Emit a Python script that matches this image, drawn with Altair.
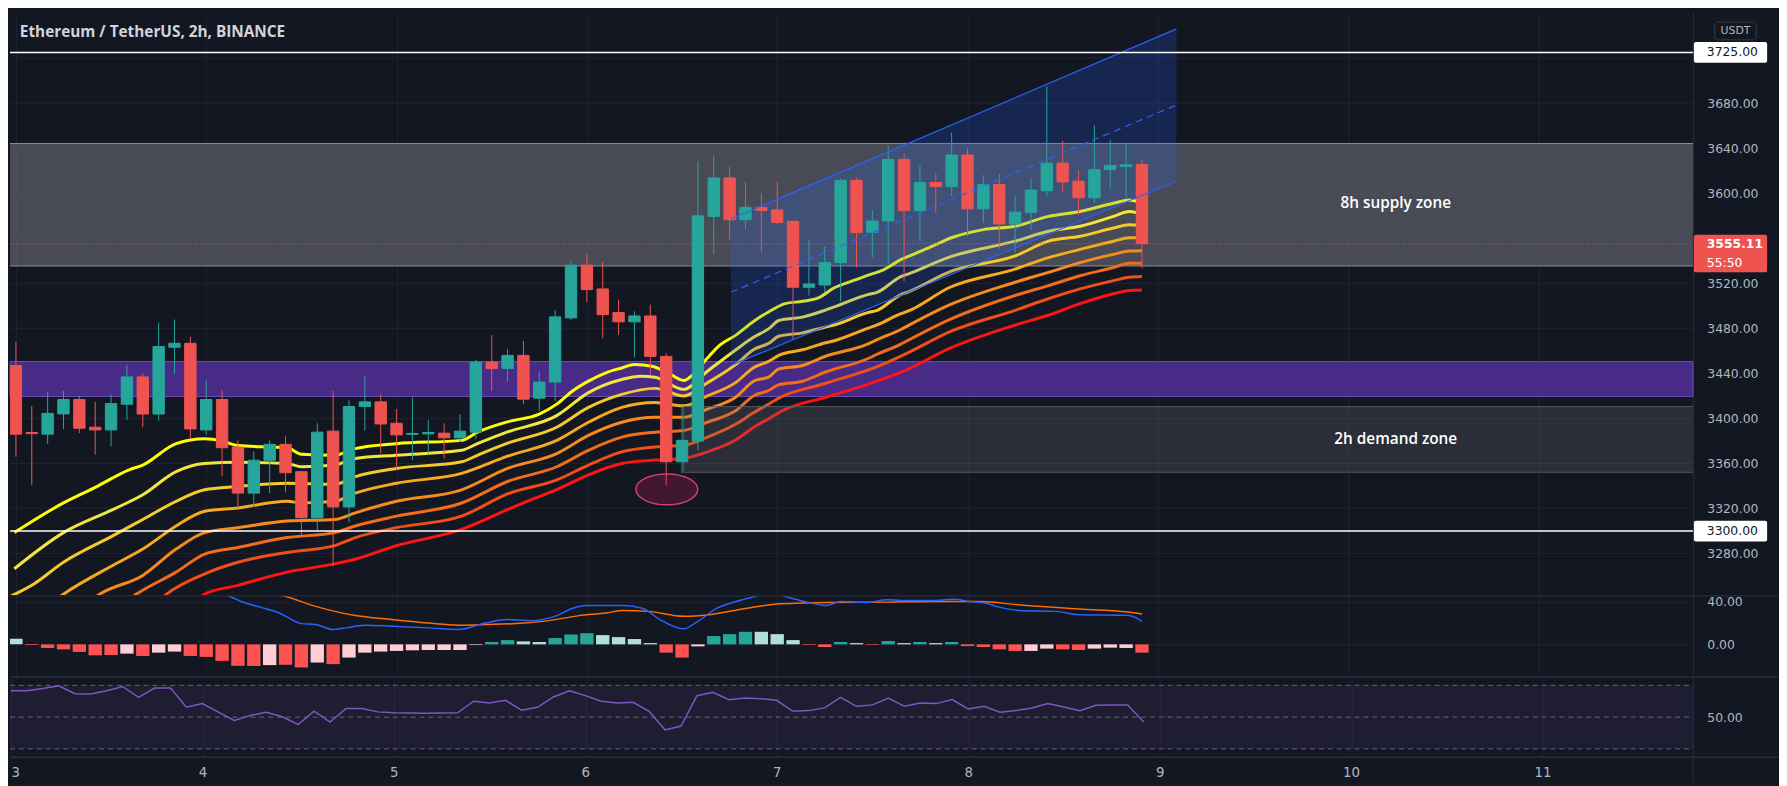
import altair as alt
import pandas as pd

BG = "#131722"
GRID = "#1f2330"
SEP = "#2a2e39"
TXT = "#b2b5be"
UP = "#26a69a"
DN = "#ef5350"

W = 1701
H_MAIN, H_MACD, H_RSI = 589, 81, 81
XDOM = [2.99483, 11.7855]
PDOM = [3243.3, 3760.8]
MDOM = [-29.77, 45.58]
RDOM = [24.84, 75.23]

DAYS = [3, 4, 5, 6, 7, 8, 9, 10, 11]
PRICE_GRID = [3280, 3320, 3360, 3400, 3440, 3480, 3520, 3560, 3600, 3640, 3680, 3720]
PRICE_LABELS = [3280, 3320, 3360, 3400, 3440, 3480, 3520, 3600, 3640, 3680]

# ---- 2h candles, bar index k (day = 3 + k/12) ----
OPEN = [3447, 3387.5, 3386, 3404, 3416.8, 3392.2, 3389.8, 3412.6, 3436.9, 3403.9,
        3463.2, 3466.7, 3389.8, 3416.8, 3374.6, 3333.7, 3362.9, 3377, 3352.7, 3311.8,
        3388.7, 3321.4, 3410.6, 3414.7, 3395.7, 3385.9, 3386.3, 3386.9, 3382.8, 3387.8,
        3450, 3444.3, 3456, 3418, 3432.3, 3489.3, 3536.1, 3515, 3494, 3485.8,
        3491, 3455.1, 3361.5, 3379.9, 3579.3, 3613.6, 3576.4, 3587.5, 3585.2, 3575,
        3516.5, 3518.5, 3538.4, 3611.5, 3565.3, 3575.3, 3630, 3584.6, 3609.5, 3606,
        3634, 3586.1, 3607.7, 3572.7, 3583, 3602.2, 3626.7, 3610.7, 3596, 3620.9,
        3623.8, 3625.6]
HIGH = [3468, 3411, 3423.5, 3424.4, 3420, 3414.7, 3421.4, 3447.7, 3440.4, 3485.2,
        3487.8, 3472.6, 3433.7, 3425, 3380.5, 3370.8, 3380.5, 3384, 3352.7, 3395.7,
        3424.4, 3416.2, 3437.5, 3421.4, 3408.3, 3418.6, 3398.6, 3395.7, 3403.9, 3452.1,
        3474, 3461.8, 3468.8, 3441.9, 3496, 3539.9, 3545.7, 3539, 3505.4, 3495.1,
        3501, 3458, 3411.2, 3628.5, 3633.4, 3623.2, 3610, 3599.8, 3610, 3575,
        3558.9, 3553, 3613, 3614, 3585, 3642.2, 3635, 3624.7, 3618, 3653.9,
        3640.2, 3615.9, 3617.4, 3597.5, 3613, 3694.9, 3646.6, 3620.3, 3660.4, 3647.5,
        3643.7, 3629.1]
LOW = [3366, 3341, 3377.6, 3390.7, 3386.9, 3367.9, 3375.2, 3398.6, 3392.2, 3398,
       3439.5, 3382, 3385.4, 3348.9, 3320.5, 3321.4, 3333.7, 3334.3, 3295.7, 3299.2,
       3268.8, 3308, 3389.2, 3368.8, 3354.2, 3363, 3368.8, 3364.4, 3379, 3382,
       3424.4, 3432.6, 3412.7, 3406.8, 3415.6, 3487.2, 3503.3, 3471.2, 3474.1, 3454.2,
       3439, 3341, 3351.3, 3371.8, 3545.7, 3558.9, 3568.2, 3547.2, 3572.1, 3469.7,
       3509.2, 3512.1, 3504, 3534, 3543, 3537, 3522, 3557.4, 3582.3, 3597.5,
       3561.8, 3573.5, 3550.7, 3547.2, 3567.7, 3596.9, 3601.3, 3580.8, 3591.1, 3604.2,
       3595.4, 3533.2]
CLOSE = [3386, 3386.5, 3404.5, 3416.8, 3391.3, 3389.8, 3413.2, 3436.9, 3403.9, 3463.8,
         3466.7, 3390.7, 3416.8, 3374, 3333.7, 3362.9, 3377, 3351.8, 3311.8, 3387.8,
         3321.4, 3410.6, 3414.7, 3395.1, 3385.4, 3386.7, 3387.5, 3382.8, 3388.7, 3450,
         3444.2, 3456, 3417.1, 3432.3, 3490.2, 3536.1, 3514.4, 3492.2, 3485.8, 3491,
         3455.1, 3361.5, 3380.5, 3579.9, 3613.6, 3576.4, 3587.5, 3584.6, 3574.1, 3516.5,
         3519.4, 3538.4, 3611.5, 3565, 3575.3, 3630, 3584.6, 3609.5, 3606, 3634,
         3586.1, 3607.7, 3572.7, 3583.2, 3602.8, 3626.7, 3610, 3596, 3620.9, 3624.7,
         3625.3, 3555.11]

# ---- MACD histogram per bar and its shade (T teal, L light teal, R red, P pink) ----
HIST = [5.3, -0.6, -3.4, -4.7, -7.1, -10.3, -10.0, -8.7, -10.9, -7.8,
        -6.8, -10.9, -11.8, -15.5, -20.2, -20.3, -19.5, -19.2, -21.7, -17.1,
        -18.6, -12.4, -7.8, -6.8, -6.2, -5.6, -5.3, -5.3, -5.3, -0.6,
        2.2, 4.0, 2.8, 2.2, 5.9, 9.3, 10.5, 8.7, 6.8, 5.0,
        1.2, -7.8, -12.4, -1.9, 7.8, 9.6, 11.8, 11.8, 9.6, 4.0,
        -0.6, -2.5, 2.2, 1.2, -0.6, 3.1, 1.2, 2.2, 1.2, 2.2,
        -1.6, -2.5, -4.7, -6.2, -6.2, -4.0, -4.7, -5.3, -4.0, -3.1,
        -3.4, -7.8]
HIST_TONE = ["L", "R", "R", "R", "R", "R", "R", "P", "R", "P",
             "P", "R", "R", "R", "R", "R", "P", "R", "R", "P",
             "R", "P", "P", "P", "P", "P", "P", "P", "P", "P",
             "T", "T", "L", "L", "T", "T", "T", "L", "L", "L",
             "L", "R", "R", "P", "T", "T", "T", "L", "L", "L",
             "R", "R", "T", "L", "R", "T", "L", "T", "L", "T",
             "R", "R", "R", "R", "P", "P", "R", "R", "P", "P",
             "P", "R"]
TONE_COLORS = {"T": "#26a69a", "L": "#b2dfdb", "R": "#ff5252", "P": "#ffcdd2"}

MACD_LINE = [(0, 70), (12, 52), (13.5, 45), (14.2, 40.3), (15.4, 35), (16.6, 29.5), (18.0, 19.5),
             (18.9, 18.6), (20.0, 14), (20.8, 15.5), (22.0, 18), (23.7, 17), (26.0, 15.5),
             (27.9, 14), (29.6, 20), (31.0, 23.3), (32.5, 22.3), (34.1, 27), (35.1, 34),
             (36.0, 36.6), (38.3, 36.6), (39.5, 34), (40.6, 23.3), (42.1, 14.6), (43.0, 21.7),
             (44.2, 34), (45.4, 40.3), (46.6, 45), (47.5, 48), (48.5, 45), (49.7, 40.3),
             (51.1, 36.6), (52.0, 40.3), (53.7, 39.4), (54.9, 41.9), (56.3, 41.2), (58.0, 41.2),
             (59.2, 42.5), (60.1, 40.3), (61.1, 38.8), (62.0, 35), (63.2, 31.9), (65.6, 31),
             (67.0, 27.9), (70.1, 27.3), (71.0, 21.7)]
SIGNAL_LINE = [(0, 65), (15, 50), (17.0, 45), (18.9, 35.7), (21.3, 27.3), (23.7, 23.3),
               (26.0, 20), (27.9, 18), (29.6, 18.6), (32.0, 20), (33.6, 22.3), (35.5, 27),
               (37.2, 29.5), (38.3, 31.9), (39.9, 31), (42.1, 26.4), (43.7, 27.9), (46.1, 34),
               (48.2, 38.1), (51.3, 39.4), (54.9, 39.7), (58.4, 40.3), (60.8, 40.3), (63.2, 37.2),
               (66.8, 33.5), (70.1, 30.4), (71.0, 28.5)]

RSI = [66.6, 66.6, 68, 69.7, 64.7, 64.5, 66.6, 69.3, 62.4, 68.3,
       68.3, 56.2, 58.5, 53.1, 47.9, 51, 53.1, 50.2, 45.4, 53.7,
       46.9, 55.4, 55.4, 53.3, 52.7, 52.6, 52.5, 52.6, 52.7, 60,
       58.9, 60.6, 54.4, 56.2, 62.7, 66.6, 63.5, 60, 58.9, 59.3,
       53.7, 41.9, 44.4, 63.5, 65.6, 61, 62, 61.6, 60.6, 53.7,
       54.1, 55.8, 62.4, 56.8, 57.7, 62, 56.8, 58.9, 58.5, 61,
       55.2, 56.8, 53.1, 54.1, 55.8, 58.5, 56.4, 54.1, 57.5, 57.7,
       57.7, 46.9]

# ---- EMA ribbon, read as (bar index, price) ----
RIBBON_NAMES = ["L1", "L2", "L3", "L4", "L5", "L6", "L7", "L8"]
RIBBON_COLORS = ["#ffff00", "#f3e53f", "#f6c92c", "#f6aa20", "#f48b1c", "#f26c19", "#f04f17", "#ff1414"]
RIBBON = {
    "L1": [(-0.1, 3298.6), (3.0, 3325), (5.1, 3339.5), (7.1, 3354.2), (8.0, 3358.6), (10.1, 3377.6),
           (11.9, 3381.9), (13.0, 3380), (14.0, 3376), (16.1, 3374.6), (17.1, 3374), (18.0, 3368.2),
           (20.1, 3367.3), (21.4, 3373.2), (24.0, 3377.6), (28.1, 3380.5), (29.1, 3387.8), (31.0, 3397),
           (33.0, 3403.9), (34.1, 3412.7), (35.1, 3424.4), (36.1, 3433.1), (37.2, 3440.5), (38.2, 3444.8),
           (39.0, 3447.8), (40.1, 3446.3), (41.1, 3440.5), (42.1, 3433.7), (42.7, 3439), (43.6, 3453.6),
           (44.4, 3465.3), (45.4, 3474), (46.5, 3486), (47.5, 3495), (48.5, 3502), (49.6, 3504),
           (50.6, 3507), (51.6, 3516), (52.7, 3522), (53.7, 3527), (54.7, 3532), (55.8, 3541),
           (56.8, 3547), (57.8, 3553), (58.9, 3560), (61.0, 3567.7), (63.0, 3570.6), (65.1, 3579.4),
           (67.1, 3583.8), (69.2, 3591.1), (70.2, 3594), (71.0, 3591.5)],
    "L2": [(-0.1, 3266.5), (3.0, 3298.6), (6.1, 3319), (8.0, 3332.2), (10.1, 3352.7), (11.9, 3360),
           (14.0, 3361), (17.1, 3360), (18.0, 3357.1), (20.1, 3358.6), (21.4, 3364.4), (24.0, 3367.3),
           (28.1, 3371.7), (29.1, 3377.6), (31.0, 3388), (34.1, 3402.5), (36.1, 3422.9), (38.2, 3434.6),
           (39.4, 3437.5), (40.3, 3436.6), (42.1, 3425.8), (43.6, 3441.9), (45.4, 3461), (46.5, 3472),
           (47.5, 3480), (48.1, 3487), (49.6, 3490), (51.0, 3496), (51.6, 3499), (53.7, 3510),
           (54.3, 3512), (55.8, 3526), (56.2, 3528), (58.9, 3543.5), (63.0, 3557.4), (65.1, 3566.2),
           (67.1, 3570.6), (69.2, 3579.4), (70.2, 3583.8), (71.0, 3581.5)],
    "L3": [(-0.5, 3241), (1.0, 3251.8), (3.0, 3272.3), (6.1, 3295.7), (8.0, 3310.3), (10.1, 3326.4),
           (11.9, 3336.6), (14.0, 3339.5), (17.1, 3342.5), (20.1, 3341.5), (21.4, 3348.3), (24.0, 3355.6),
           (28.1, 3361.5), (29.1, 3367.3), (31.0, 3378), (34.1, 3392.2), (36.1, 3409.8), (38.2, 3421.4),
           (40.3, 3426.7), (42.1, 3420), (43.6, 3431.7), (45.4, 3448), (46.5, 3461), (47.5, 3467),
           (48.1, 3473), (49.6, 3476), (51.0, 3481), (51.6, 3483), (53.7, 3494), (54.3, 3496),
           (55.8, 3510), (56.2, 3512), (58.9, 3530.4), (63.0, 3544.3), (65.1, 3557.4), (67.1, 3561.8),
           (69.2, 3569.1), (70.2, 3572), (71.0, 3571)],
    "L4": [(2.4, 3238), (3.0, 3244), (6.1, 3269.4), (8.0, 3284), (10.1, 3304.5), (11.9, 3317.6),
           (14.0, 3320.5), (17.1, 3326.4), (18.0, 3325), (20.1, 3326.4), (21.4, 3333.7), (24.0, 3342.5),
           (28.1, 3351.2), (31.0, 3366.5), (34.1, 3380.5), (36.1, 3396.6), (38.2, 3409.8), (40.3, 3414.1),
           (42.1, 3411.2), (43.6, 3420), (45.4, 3432), (46.5, 3445), (47.5, 3451), (48.1, 3456),
           (49.6, 3461), (51.0, 3467), (51.6, 3469), (53.7, 3480), (54.3, 3483), (55.8, 3493),
           (56.2, 3495), (58.9, 3516.5), (63.0, 3532.6), (65.1, 3542.8), (67.1, 3550.1), (69.2, 3557.4),
           (70.2, 3560.4), (71.0, 3560.4)],
    "L5": [(4.7, 3238), (5.3, 3244), (8.0, 3260.6), (10.1, 3284), (11.9, 3298.6), (14.0, 3303),
           (17.1, 3308.9), (20.1, 3310.3), (21.4, 3316.2), (24.0, 3326.4), (28.1, 3336.6), (31.0, 3355.6),
           (34.1, 3368.8), (36.1, 3384.9), (38.2, 3396.6), (40.3, 3401), (42.1, 3401), (43.6, 3408.3),
           (45.4, 3419), (46.5, 3433), (47.5, 3437), (48.1, 3444), (49.6, 3447), (51.0, 3455),
           (53.7, 3466), (54.3, 3470), (55.8, 3479), (56.2, 3482), (58.9, 3501), (63.0, 3520.9),
           (65.1, 3529.7), (67.1, 3538.4), (69.2, 3545.7), (70.2, 3548.7), (71.0, 3549)],
    "L6": [(7.0, 3238), (7.6, 3244), (10.1, 3263.5), (11.9, 3279.6), (14.0, 3285.4), (17.1, 3294.2),
           (20.1, 3298.6), (21.4, 3304.5), (24.0, 3313.2), (28.1, 3324.9), (31.0, 3344), (34.1, 3357.1),
           (36.1, 3371.7), (38.2, 3383.4), (40.3, 3387.8), (42.1, 3389.3), (43.6, 3396.6), (45.4, 3407),
           (46.5, 3420), (47.5, 3425), (48.1, 3430), (49.6, 3433), (51.0, 3441), (53.7, 3453),
           (54.3, 3457), (55.8, 3466), (56.2, 3469), (58.9, 3488), (63.0, 3509.2), (65.1, 3518),
           (67.1, 3526.7), (69.2, 3534), (70.2, 3537.8), (71.0, 3537.8)],
    "L7": [(9.0, 3238), (9.5, 3244), (11.9, 3262), (14.0, 3272.3), (17.1, 3281), (20.1, 3287),
           (21.4, 3294.2), (24.0, 3303), (28.1, 3313.2), (31.0, 3333), (34.1, 3345.4), (36.1, 3358.6),
           (38.2, 3370.3), (40.3, 3374.7), (42.1, 3376.1), (43.6, 3383.4), (45.4, 3395), (46.5, 3405),
           (47.5, 3413), (48.1, 3418), (51.0, 3431), (54.3, 3446), (56.2, 3458), (58.9, 3477),
           (63.0, 3496), (65.1, 3506.3), (67.1, 3515), (69.2, 3522.4), (70.2, 3525.3), (71.0, 3526)],
    "L8": [(11.4, 3238), (11.9, 3244), (14.0, 3251.8), (17.1, 3263.5), (20.1, 3270.8), (21.4, 3275),
           (24.0, 3287), (28.1, 3301.5), (31.0, 3319), (32.0, 3325), (34.1, 3336.7), (36.1, 3349.8),
           (38.2, 3360), (40.3, 3363), (42.1, 3364.4), (43.6, 3370.3), (45.4, 3381), (46.5, 3392),
           (47.5, 3400), (48.5, 3408), (51.0, 3418.5), (54.3, 3433.2), (56.2, 3443.4), (58.9, 3462.4),
           (63.0, 3482.9), (65.1, 3491.6), (67.1, 3501.9), (69.2, 3510.7), (70.2, 3513.6), (71.0, 3514)],
}

# ---- drawings ----
SUPPLY = (3535.4, 3644.2)
PURPLE = (3419.5, 3450.5)
DEMAND = (3352.2, 3410.5)
DEMAND_START = 6.509
CHANNEL_D = [6.757, 9.098]
CHANNEL_UP = [3577.1, 3745.9]
CHANNEL_MID = [3512.1, 3678.3]
CHANNEL_LO = [3447.1, 3610.6]
LEVELS = [3725, 3300]
LAST_PRICE = 3555.11
ELLIPSE_AT = (6.42, 3337)


def day(k):
    return 3 + k / 12.0


xs = alt.Scale(domain=XDOM, nice=False, zero=False)
ps = alt.Scale(domain=PDOM, nice=False, zero=False)
x_axis_hidden = alt.Axis(values=DAYS, grid=True, gridColor=GRID, labels=False, ticks=False,
                         domain=False, title=None, zindex=0)
p_axis = alt.Axis(orient="right", values=PRICE_LABELS, format=".2f", grid=False,
                  ticks=False, domain=True, domainColor=SEP,
                  labelColor=TXT, labelFontSize=12.5, labelFont="DejaVu Sans",
                  labelPadding=14, title=None, zindex=0)


def XM(f="d"):
    return alt.X(f"{f}:Q", scale=xs, axis=x_axis_hidden)


def YP(f="p"):
    return alt.Y(f"{f}:Q", scale=ps, axis=p_axis)


# ---------- main pane ----------
cdf = pd.DataFrame({
    "d": [day(k) for k in range(len(OPEN))],
    "o": OPEN, "h": HIGH, "l": LOW, "c": CLOSE,
})
cdf["col"] = [UP if c >= o else DN for o, c in zip(OPEN, CLOSE)]
cdf["blo"] = cdf[["o", "c"]].min(axis=1)
cdf["bhi"] = cdf[["o", "c"]].max(axis=1)

rib_rows = []
for name, colr in zip(RIBBON_NAMES, RIBBON_COLORS):
    for k, p in RIBBON[name]:
        rib_rows.append({"line": name, "col": colr, "d": day(k), "p": p})
rdf = pd.DataFrame(rib_rows)

one = pd.DataFrame({"a": [0]})

hgrid = alt.Chart(pd.DataFrame({"p": PRICE_GRID})).mark_rule(color=GRID, strokeWidth=1).encode(
    x=alt.value(0), x2=alt.value(W), y=YP())

purple = alt.Chart(pd.DataFrame({"p": [PURPLE[0]], "p2": [PURPLE[1]]})).mark_rect(
    fill="#482a87", stroke="#6a4fb5", strokeWidth=1).encode(
    x=alt.value(0), x2=alt.value(W), y=YP("p"), y2="p2:Q")

supply = alt.Chart(pd.DataFrame({"p": [SUPPLY[0]], "p2": [SUPPLY[1]]})).mark_rect(
    fill="#787b86", fillOpacity=0.52).encode(
    x=alt.value(0), x2=alt.value(W), y=YP("p"), y2="p2:Q")
supply_edges = alt.Chart(pd.DataFrame({"p": list(SUPPLY)})).mark_rule(
    color="#8e919b", strokeWidth=1).encode(x=alt.value(0), x2=alt.value(W), y=YP())

ribbon = alt.Chart(rdf).mark_line(strokeWidth=3, clip=True, interpolate="monotone").encode(
    x=XM(), y=YP(), detail="line:N",
    color=alt.Color("col:N", scale=None))

demand = alt.Chart(pd.DataFrame({"d": [DEMAND_START], "p": [DEMAND[0]], "p2": [DEMAND[1]]})).mark_rect(
    fill="#787b86", fillOpacity=0.24, stroke="#555862", strokeWidth=1, clip=True).encode(
    x=XM(), x2=alt.value(W + 2), y=YP("p"), y2="p2:Q")

chdf = pd.DataFrame({"d": CHANNEL_D, "up": CHANNEL_UP, "mid": CHANNEL_MID, "lo": CHANNEL_LO})
ch_fill = alt.Chart(chdf).mark_area(color="#2962ff", opacity=0.2).encode(
    x=XM(), y=YP("up"), y2="lo:Q")
ch_up = alt.Chart(chdf).mark_line(color="#2962ff", strokeWidth=1.2).encode(x=XM(), y=YP("up"))
ch_lo = alt.Chart(chdf).mark_line(color="#2962ff", strokeWidth=1.2).encode(x=XM(), y=YP("lo"))
ch_mid = alt.Chart(chdf).mark_line(color="#2962ff", strokeWidth=1.2, strokeDash=[7, 5]).encode(
    x=XM(), y=YP("mid"))

wicks = alt.Chart(cdf).mark_rule(strokeWidth=1, clip=True).encode(
    x=XM(), y=YP("l"), y2="h:Q", color=alt.Color("col:N", scale=None))
bodies = alt.Chart(cdf).mark_bar(size=11.5, strokeWidth=1, clip=True).encode(
    x=XM(), y=YP("blo"), y2="bhi:Q",
    fill=alt.Fill("col:N", scale=None),
    stroke=alt.Stroke("col:N", scale=None))

levels = alt.Chart(pd.DataFrame({"p": LEVELS})).mark_rule(color="#ffffff", strokeWidth=1.5).encode(
    x=alt.value(0), x2=alt.value(W), y=YP())
last_line = alt.Chart(pd.DataFrame({"p": [LAST_PRICE]})).mark_rule(
    color=DN, strokeWidth=1, strokeDash=[1, 2]).encode(x=alt.value(0), x2=alt.value(W), y=YP())

ELLIPSE = "M -1 0 A 1 0.5 0 1 1 1 0 A 1 0.5 0 1 1 -1 0 Z"
ellipse = alt.Chart(pd.DataFrame({"d": [ELLIPSE_AT[0]], "p": [ELLIPSE_AT[1]]})).mark_point(
    shape=ELLIPSE, size=3900, filled=True, fill="#e91e63", fillOpacity=0.22,
    stroke="#d0406f", strokeWidth=1.5, opacity=1).encode(x=XM(), y=YP())

title = alt.Chart(one).mark_text(
    text="Ethereum / TetherUS, 2h, BINANCE", align="left", baseline="middle",
    font="Open Sans", fontSize=15.5, fontWeight="bold", color="#d1d4dc").encode(
    x=alt.value(10), y=alt.value(20))

zone_txt = alt.Chart(pd.DataFrame({
    "d": [10.25, 10.25], "p": [3591, 3382], "t": ["8h supply zone", "2h demand zone"]})).mark_text(
    align="center", baseline="middle", font="Open Sans", fontSize=15.5, fontWeight=600,
    color="#ffffff").encode(x=XM(), y=YP(), text="t:N")

# axis-side boxes
lvl_df = pd.DataFrame({"p": LEVELS, "lo": [v - 9.2 for v in LEVELS], "hi": [v + 9.2 for v in LEVELS],
                       "t": [f"{v:.2f}" for v in LEVELS]})
lvl_box = alt.Chart(lvl_df).mark_rect(fill="#ffffff", cornerRadius=2).encode(
    x=alt.value(W + 1), x2=alt.value(W + 75), y=YP("lo"), y2="hi:Q")
lvl_txt = alt.Chart(lvl_df).mark_text(align="left", baseline="middle", font="DejaVu Sans",
                                      fontSize=12.5, color="#131722").encode(
    x=alt.value(W + 14), y=YP(), text="t:N")

lp_box = alt.Chart(pd.DataFrame({"lo": [LAST_PRICE - 25.4], "hi": [LAST_PRICE + 8.0]})).mark_rect(
    fill=DN, cornerRadius=2).encode(x=alt.value(W + 1), x2=alt.value(W + 75), y=YP("lo"), y2="hi:Q")
lp_txt1 = alt.Chart(pd.DataFrame({"p": [LAST_PRICE - 0.6], "t": [f"{LAST_PRICE:.2f}"]})).mark_text(
    align="left", baseline="middle", font="DejaVu Sans", fontSize=12.5, fontWeight="bold",
    color="#ffffff").encode(x=alt.value(W + 14), y=YP(), text="t:N")
lp_txt2 = alt.Chart(pd.DataFrame({"p": [LAST_PRICE - 16.8], "t": ["55:50"]})).mark_text(
    align="left", baseline="middle", font="DejaVu Sans", fontSize=12.5,
    color="#ffffff").encode(x=alt.value(W + 14), y=YP(), text="t:N")

usdt_box = alt.Chart(one).mark_rect(fill=BG, stroke="#363a45", strokeWidth=1, cornerRadius=3).encode(
    x=alt.value(W + 22), x2=alt.value(W + 64), y=alt.value(10), y2=alt.value(28))
usdt_txt = alt.Chart(one).mark_text(text="USDT", align="center", baseline="middle",
                                    font="DejaVu Sans", fontSize=11, color=TXT).encode(
    x=alt.value(W + 43), y=alt.value(19.5))

main = alt.layer(
    hgrid, purple, supply, supply_edges, ribbon, demand, ch_fill, wicks, bodies,
    ch_up, ch_lo, ch_mid, levels, last_line, ellipse, title, zone_txt,
    lvl_box, lvl_txt, lp_box, lp_txt1, lp_txt2, usdt_box, usdt_txt,
).properties(width=W, height=H_MAIN)


# ---------- MACD pane ----------
def YM(f):
    return alt.Y(f"{f}:Q", scale=alt.Scale(domain=MDOM, nice=False, zero=False),
                 axis=alt.Axis(orient="right", values=[0, 40], format=".2f", grid=True,
                               gridColor=GRID, ticks=False, domain=True, domainColor=SEP,
                               labelColor=TXT, labelFontSize=12.5, labelFont="DejaVu Sans",
                               labelPadding=14, title=None, zindex=0))


hdf = pd.DataFrame({"d": [day(k) for k in range(len(HIST))], "h": HIST,
                    "col": [TONE_COLORS[t] for t in HIST_TONE]})
hist = alt.Chart(hdf).mark_bar(size=13.5, clip=True).encode(
    x=XM(), y=YM("h"), y2=alt.datum(0), color=alt.Color("col:N", scale=None))
mdf = pd.DataFrame({"d": [day(k) for k, v in MACD_LINE], "v": [v for k, v in MACD_LINE]})
sdf = pd.DataFrame({"d": [day(k) for k, v in SIGNAL_LINE], "v": [v for k, v in SIGNAL_LINE]})
macd_l = alt.Chart(mdf).mark_line(color="#2962ff", strokeWidth=1.5, clip=True,
                                  interpolate="monotone").encode(x=XM(), y=YM("v"))
sig_l = alt.Chart(sdf).mark_line(color="#ff6d00", strokeWidth=1.5, clip=True,
                                 interpolate="monotone").encode(x=XM(), y=YM("v"))
sep_top = alt.Chart(one).mark_rule(color=SEP, strokeWidth=1.5).encode(
    x=alt.value(0), x2=alt.value(W + 86), y=alt.value(0))
macd = alt.layer(hist, sig_l, macd_l, sep_top).properties(width=W, height=H_MACD)


# ---------- RSI pane ----------
def YR(f):
    return alt.Y(f"{f}:Q", scale=alt.Scale(domain=RDOM, nice=False, zero=False),
                 axis=alt.Axis(orient="right", values=[50], format=".2f", grid=False,
                               ticks=False, domain=True, domainColor=SEP,
                               labelColor=TXT, labelFontSize=12.5, labelFont="DejaVu Sans",
                               labelPadding=14, title=None, zindex=0))


x_axis_bottom = alt.Axis(values=DAYS, format="d", grid=True, gridColor=GRID, labels=True,
                         labelColor=TXT, labelFontSize=13.5, labelFont="DejaVu Sans",
                         ticks=False, domain=False, labelPadding=9, labelFlush=5,
                         title=None, zindex=0)


def XR(f="d"):
    return alt.X(f"{f}:Q", scale=xs, axis=x_axis_bottom)


rsi_df = pd.DataFrame({"d": [day(k) for k in range(len(RSI))], "v": RSI})
band = alt.Chart(pd.DataFrame({"v": [30], "v2": [70]})).mark_rect(fill="#7e57c2", fillOpacity=0.1).encode(
    x=alt.value(0), x2=alt.value(W), y=YR("v"), y2="v2:Q")
lvl_r = alt.Chart(pd.DataFrame({"v": [70, 50, 30]})).mark_rule(
    color="#787b86", strokeWidth=1, strokeDash=[5, 4], opacity=0.8).encode(
    x=alt.value(0), x2=alt.value(W), y=YR("v"))
rsi_l = alt.Chart(rsi_df).mark_line(color="#7e57c2", strokeWidth=1.5).encode(x=XR(), y=YR("v"))
sep_a = alt.Chart(one).mark_rule(color=SEP, strokeWidth=1.5).encode(
    x=alt.value(0), x2=alt.value(W + 86), y=alt.value(0))
sep_b = alt.Chart(one).mark_rule(color=SEP, strokeWidth=1.5).encode(
    x=alt.value(0), x2=alt.value(W + 86), y=alt.value(H_RSI))
axis_tail = alt.Chart(one).mark_rule(color=SEP, strokeWidth=1).encode(
    x=alt.value(W), y=alt.value(H_RSI), y2=alt.value(H_RSI + 26))
rsi = alt.layer(band, lvl_r, rsi_l, sep_a, sep_b, axis_tail).properties(width=W, height=H_RSI)

chart = alt.vconcat(main, macd, rsi, spacing=0).resolve_scale(
    x="independent", y="independent"
).properties(background=BG, padding=0).configure_view(stroke=None)

chart.save("out.html", embed_options={"renderer": "svg", "actions": False})
